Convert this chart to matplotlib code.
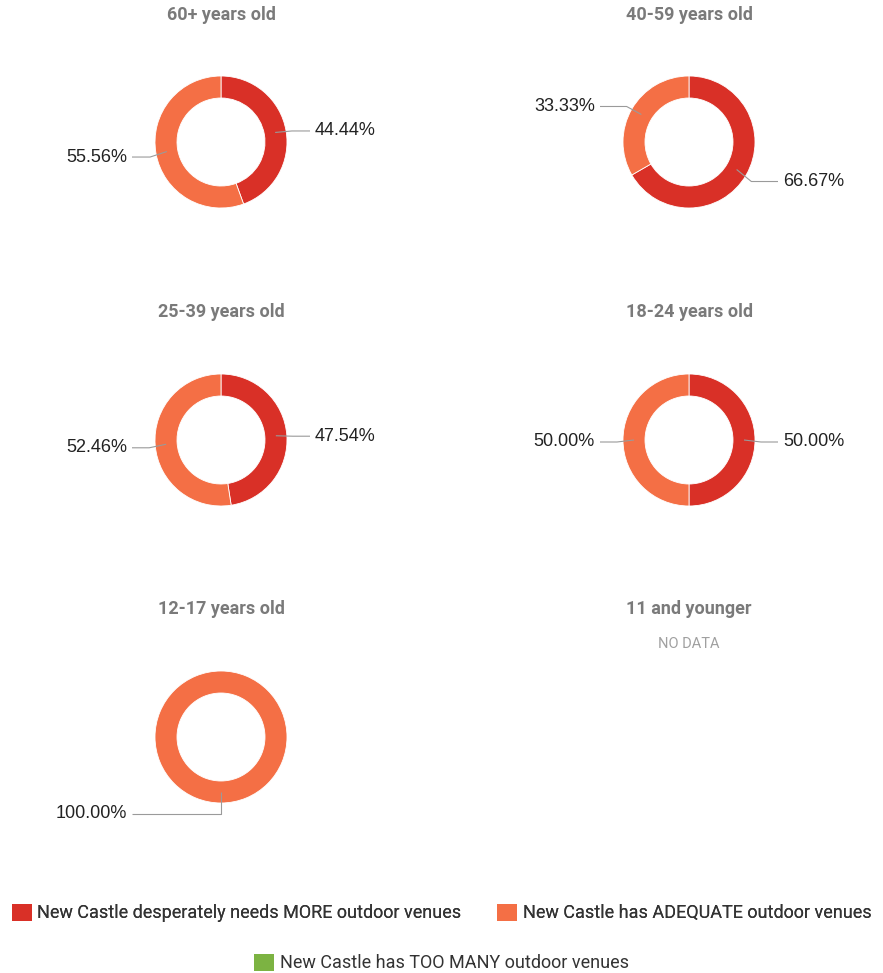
import numpy as np
import matplotlib.pyplot as plt
from matplotlib.patches import Patch

# survey answers by age group (percent of respondents)
groups = ["60+ years old", "40-59 years old", "25-39 years old",
          "18-24 years old", "12-17 years old", "11 and younger"]
needs_more = [44.44, 66.67, 47.54, 50.00, 0.00, None]
adequate = [55.56, 33.33, 52.46, 50.00, 100.00, None]
too_many = [0.00, 0.00, 0.00, 0.00, 0.00, None]

answers = ["New Castle desperately needs MORE outdoor venues",
           "New Castle has ADEQUATE outdoor venues",
           "New Castle has TOO MANY outdoor venues"]
colors = ["#D93027", "#F46F45", "#7CB342"]

W, H = 883, 973
fig = plt.figure(figsize=(W / 100, H / 100), dpi=100)
ax = fig.add_axes([0, 0, 1, 1])

col_x = [221, 689]
row_y = [142, 440, 737]
title_y = [15, 312, 609]
R, RING = 66, 22

for i, name in enumerate(groups):
    cx = col_x[i % 2]
    cy = H - row_y[i // 2]
    ax.text(cx, H - title_y[i // 2], name, ha="center", va="center",
            fontsize=13, fontweight="bold", color="#7a7a7a", family="Roboto")
    if needs_more[i] is None:
        ax.text(cx, H - title_y[i // 2] - 35, "NO DATA", ha="center", va="center",
                fontsize=10.5, color="#a0a0a0", family="Roboto")
        continue
    vals = [needs_more[i], adequate[i], too_many[i]]
    keep = [k for k, v in enumerate(vals) if v > 0]
    wedges, _ = ax.pie([vals[k] for k in keep], colors=[colors[k] for k in keep],
                       center=(cx, cy), radius=R, startangle=90, counterclock=False,
                       wedgeprops=dict(width=RING, edgecolor="white", linewidth=0.6))
    for w, k in zip(wedges, keep):
        mid = np.deg2rad((w.theta1 + w.theta2) / 2)
        c, s = np.cos(mid), np.sin(mid)
        side = 1 if c > 1e-6 else -1
        p0 = (cx + 55 * c, cy + 55 * s)
        ly = cy + 75 * s - 2
        elbow = (cx + 72 * c, ly)
        end = (cx + side * 89, ly)
        ax.plot([p0[0], elbow[0], end[0]], [p0[1], elbow[1], end[1]],
                color="#9a9a9a", lw=0.8, solid_capstyle="butt")
        ax.text(cx + side * 94, ly, f"{vals[k]:.2f}%",
                ha="left" if side > 0 else "right", va="center",
                fontsize=13, color="#222222", family="Liberation Sans")

ax.set_xlim(0, W)
ax.set_ylim(0, H)
ax.set_aspect("auto")
ax.axis("off")

handles = [Patch(facecolor=c, edgecolor="none") for c in colors]
leg_style = dict(frameon=False, handlelength=1.1, handleheight=1.1,
                 handletextpad=0.3, columnspacing=2.0,
                 prop=dict(family="Roboto", size=13), labelcolor="#333333")
leg1 = fig.legend(handles[:2], answers[:2], ncol=2, loc="center",
                  bbox_to_anchor=(0.5, 1 - 913 / H), **leg_style)
fig.add_artist(leg1)
fig.legend(handles[2:], answers[2:], loc="center",
           bbox_to_anchor=(0.5, 1 - 963 / H), **leg_style)

fig.savefig("out.png", dpi=100, facecolor="white")
